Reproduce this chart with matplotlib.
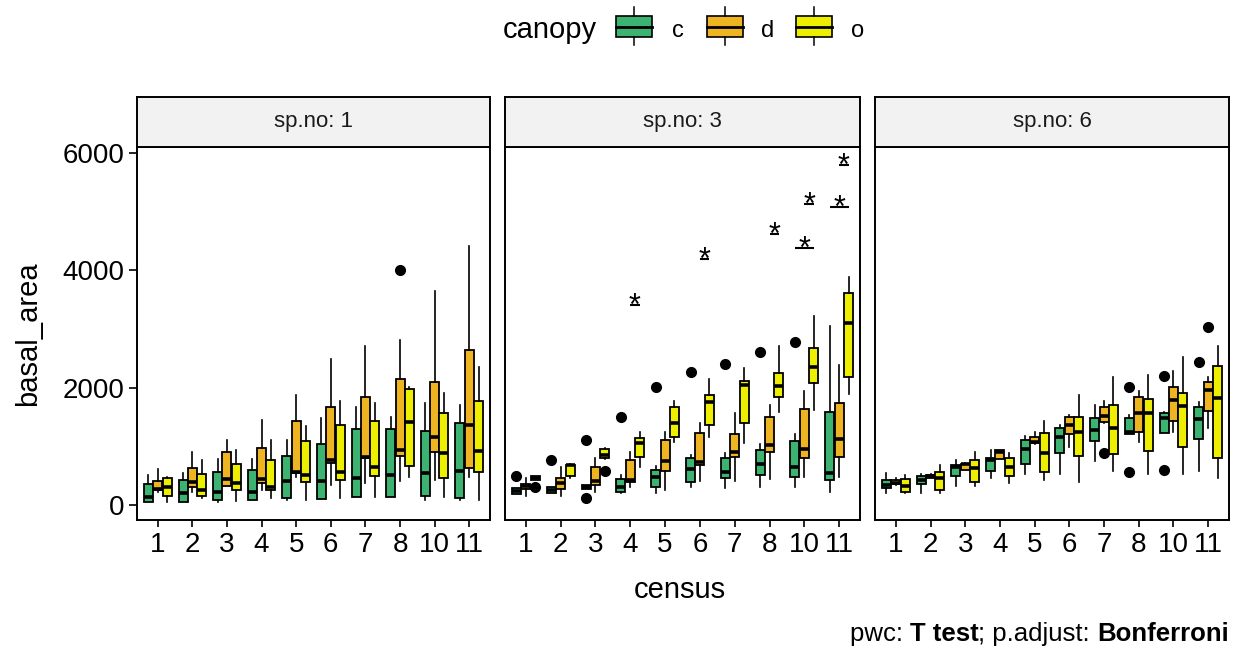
import numpy as np
import matplotlib.pyplot as plt
from matplotlib.patches import Rectangle
from matplotlib.offsetbox import TextArea, HPacker, AnchoredOffsetbox

plt.rcParams['font.family'] = ['Liberation Sans', 'DejaVu Sans']

# -----------------------------
# Data
# -----------------------------
census = ["1", "2", "3", "4", "5", "6", "7", "8", "10", "11"]
canopy = ["c", "d", "o"]
panel_titles = ["sp.no: 1", "sp.no: 3", "sp.no: 6"]
fill_colors = ["#3CB371", "#EEB422", "#EEEE00"]

# each row: whisker low, q1, median, q3, whisker high
sp1_c = [[57, 57, 142, 357, 511], [57, 57, 199, 425, 539], [45, 85, 227, 556, 777],
         [85, 85, 227, 596, 777], [85, 113, 414, 834, 1106], [96, 96, 414, 1033, 1475],
         [130, 130, 454, 1299, 1674], [130, 130, 511, 1299, 1504], [85, 153, 550, 1260, 1742],
         [85, 113, 584, 1390, 1702]]
sp1_d = [[227, 255, 267, 414, 607], [227, 301, 386, 624, 908], [329, 329, 437, 896, 1106],
         [255, 369, 437, 965, 1447], [471, 550, 556, 1430, 1872], [340, 709, 766, 1668, 2480],
         [380, 794, 823, 1833, 2712], [414, 834, 936, 2139, 2809], [425, 896, 1163, 2099, 3648],
         [482, 624, 1362, 2638, 4414]]
sp1_o = [[45, 153, 312, 454, 482], [113, 153, 255, 528, 766], [74, 255, 380, 698, 936],
         [113, 255, 312, 766, 1106], [85, 397, 511, 1095, 1345], [113, 425, 567, 1362, 1776],
         [142, 494, 652, 1430, 1731], [482, 664, 1419, 1969, 2003], [142, 454, 879, 1560, 1912],
         [85, 556, 925, 1765, 2343]]

sp3_c = [[191, 191, 237, 284, 284], [199, 199, 250, 301, 301], [267, 267, 300, 340, 340],
         [199, 227, 301, 437, 511], [210, 312, 471, 596, 664], [312, 386, 607, 794, 851],
         [284, 454, 567, 794, 879], [312, 511, 698, 936, 1038], [312, 482, 652, 1095, 1209],
         [227, 426, 550, 1589, 3047]]
sp3_d = [[153, 267, 323, 352, 454], [153, 267, 369, 465, 652], [227, 340, 414, 652, 794],
         [312, 397, 426, 766, 908], [255, 584, 755, 1106, 1237], [414, 681, 738, 1231, 1401],
         [414, 823, 908, 1203, 1572], [443, 896, 1021, 1504, 1702], [482, 794, 948, 1634, 1946],
         [482, 823, 1118, 1731, 2377]]
sp3_o = [[426, 426, 460, 494, 494], [454, 494, 675, 681, 698], [780, 794, 851, 947, 970],
         [652, 823, 1061, 1135, 1237], [1078, 1163, 1401, 1674, 1776], [1152, 1362, 1748, 1872, 2145],
         [1050, 1390, 2043, 2111, 2338], [1589, 1833, 2026, 2241, 2712], [1617, 2071, 2355, 2667, 3223],
         [1889, 2173, 3104, 3603, 3887]]

sp6_c = [[210, 284, 340, 426, 539], [210, 357, 426, 494, 528], [323, 494, 652, 681, 766],
         [454, 584, 760, 794, 936], [528, 698, 947, 1106, 1174], [528, 890, 1163, 1305, 1362],
         [754, 1095, 1277, 1475, 1702], [1208, 1208, 1246, 1475, 1532], [1231, 1231, 1475, 1561, 1590],
         [584, 1118, 1464, 1663, 1759]]
sp6_d = [[340, 357, 380, 426, 454], [465, 465, 494, 511, 528], [596, 596, 690, 700, 720],
         [777, 777, 908, 936, 936], [1040, 1061, 1078, 1152, 1237], [993, 1209, 1362, 1503, 1532],
         [1400, 1418, 1515, 1663, 1776], [1078, 1237, 1560, 1833, 1946], [1248, 1435, 1787, 2003, 2286],
         [1305, 1600, 1957, 2099, 2173]]
sp6_o = [[210, 227, 323, 437, 511], [210, 255, 465, 567, 681], [323, 397, 624, 766, 908],
         [380, 494, 652, 794, 880], [426, 567, 890, 1231, 1435], [397, 834, 1248, 1503, 1872],
         [584, 868, 1305, 1697, 2173], [528, 924, 1560, 1799, 2213], [528, 993, 1685, 1901, 2514],
         [454, 794, 1816, 2366, 2706]]

# outliers: (panel, census, canopy, value)
outliers = [
    (0, "8", "d", 4000),
    (1, "1", "c", 494), (1, "1", "o", 300), (1, "2", "c", 766),
    (1, "3", "c", 1106), (1, "3", "c", 125), (1, "3", "o", 579),
    (1, "4", "c", 1503), (1, "5", "c", 2003), (1, "6", "c", 2270),
    (1, "7", "c", 2400), (1, "8", "c", 2604), (1, "10", "c", 2775),
    (2, "7", "d", 890), (2, "8", "c", 2003), (2, "8", "c", 562),
    (2, "10", "c", 2196), (2, "10", "c", 596), (2, "11", "c", 2434),
    (2, "11", "d", 3035),
]

# significant pairwise comparisons in sp.no 3: (census, group1, group2, y)
brackets = [
    ("4", "d", "o", 3404), ("6", "d", "o", 4180), ("8", "d", "o", 4607),
    ("10", "c", "o", 4380), ("10", "d", "o", 5118),
    ("11", "c", "o", 5078), ("11", "d", "o", 5787),
]

panel_data = [
    [sp1_c, sp1_d, sp1_o],
    [sp3_c, sp3_d, sp3_o],
    [sp6_c, sp6_d, sp6_o],
]

# -----------------------------
# Layout
# -----------------------------
W, H = 1241, 655
fig = plt.figure(figsize=(W / 100, H / 100), dpi=100)

panel_px = [(137, 353), (505, 355), (875, 354)]
top_px, bottom_px, strip_top = 147, 520, 97

dodge = 0.27
box_w = 0.26
offsets = {"c": -dodge, "d": 0.0, "o": dodge}
xpos = {c: i + 1 for i, c in enumerate(census)}

axes = []
for p, (left, width) in enumerate(panel_px):
    ax = fig.add_axes([left / W, 1 - bottom_px / H, width / W, (bottom_px - top_px) / H])
    axes.append(ax)

    for g, grp in enumerate(canopy):
        rows = panel_data[p][g]
        stats = []
        for i, r in enumerate(rows):
            fl = [v for (pp, cc, gg, v) in outliers
                  if pp == p and cc == census[i] and gg == grp]
            stats.append(dict(whislo=r[0], q1=r[1], med=r[2], q3=r[3], whishi=r[4],
                              fliers=fl))
        pos = [xpos[c] + offsets[grp] for c in census]
        ax.bxp(stats, positions=pos, widths=box_w, patch_artist=True,
               showcaps=False, manage_ticks=False,
               boxprops=dict(facecolor=fill_colors[g], edgecolor="black", linewidth=1.3),
               medianprops=dict(color="black", linewidth=2.6, solid_capstyle="butt"),
               whiskerprops=dict(color="black", linewidth=1.2),
               flierprops=dict(marker="o", markerfacecolor="black",
                               markeredgecolor="black", markersize=7))

    ax.set_xlim(0.4, 10.6)
    ax.set_ylim(-255, 6094)
    ax.set_xticks(range(1, 11))
    ax.set_xticklabels(census, fontsize=20)
    ax.tick_params(axis="x", direction="out", length=5, width=1.2, pad=4, colors="black")
    if p == 0:
        ax.set_yticks([0, 2000, 4000, 6000])
        ax.set_yticklabels(["0", "2000", "4000", "6000"], fontsize=20)
        ax.tick_params(axis="y", direction="out", length=6, width=1.2, pad=3)
    else:
        ax.set_yticks([])
    for s in ax.spines.values():
        s.set_linewidth(1.4)
        s.set_color("black")

    # facet strip
    sax = fig.add_axes([left / W, 1 - top_px / H, width / W, (top_px - strip_top) / H])
    sax.set_facecolor("#F2F2F2")
    sax.set_xticks([])
    sax.set_yticks([])
    for s in sax.spines.values():
        s.set_linewidth(1.4)
    sax.text(0.5, 0.5, panel_titles[p], ha="center", va="center", fontsize=16,
             color="#1A1A1A", transform=sax.transAxes)

# significance brackets (sp.no 3)
ax = axes[1]
for cc, g1, g2, y in brackets:
    x1 = xpos[cc] + offsets[g1]
    x2 = xpos[cc] + offsets[g2]
    ax.plot([x1, x2], [y, y], color="black", linewidth=1.5, solid_capstyle="butt")
    ax.annotate("*", xy=((x1 + x2) / 2, y), xytext=(0, -7), textcoords="offset points",
                ha="center", va="baseline", fontsize=22)

# axis titles
fig.text(680 / W, 1 - 590 / H, "census", ha="center", va="center", fontsize=21)
fig.text(28 / W, 1 - 334 / H, "basal_area", ha="center", va="center",
         rotation=90, fontsize=21)

# -----------------------------
# Legend (top)
# -----------------------------
lax = fig.add_axes([0, 0, 1, 1], zorder=5)
lax.set_xlim(0, W)
lax.set_ylim(H, 0)
lax.axis("off")
lax.text(597, 30, "canopy", ha="right", va="center", fontsize=21)
key_x = [616, 707, 796]
lab_x = [678, 768, 858]
for kx, lx, col, lab in zip(key_x, lab_x, fill_colors, canopy):
    cx = kx + 18
    lax.plot([cx, cx], [7, 16], color="black", linewidth=1.1)
    lax.plot([cx, cx], [37, 45], color="black", linewidth=1.1)
    lax.add_patch(Rectangle((kx, 16), 36, 21, facecolor=col, edgecolor="black", linewidth=1.2))
    lax.plot([kx, kx + 36], [26.5, 26.5], color="black", linewidth=2.0)
    lax.text(lx, 31, lab, ha="center", va="center", fontsize=17)

# caption
parts = [("pwc: ", "normal"), ("T test", "bold"), ("; p.adjust: ", "normal"),
         ("Bonferroni", "bold")]
boxes = [TextArea(t, textprops=dict(fontsize=18.5, fontweight=w, color="black"))
         for t, w in parts]
cap = AnchoredOffsetbox(loc="lower right", child=HPacker(children=boxes, pad=0, sep=0),
                        pad=0, borderpad=0, frameon=False,
                        bbox_to_anchor=(1229 / W, 1 - 646 / H),
                        bbox_transform=fig.transFigure)
fig.add_artist(cap)

fig.savefig("out.png", dpi=100)
